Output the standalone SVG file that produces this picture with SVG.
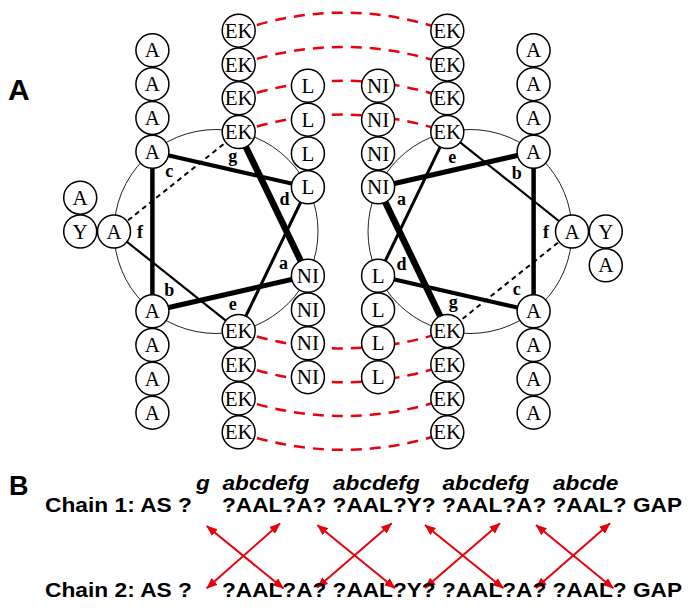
<svg xmlns="http://www.w3.org/2000/svg" width="688" height="612" viewBox="0 0 688 612">
<style>
.node circle{fill:#fff;stroke:#000;stroke-width:1.5}
.node text{font-family:"Liberation Serif","Times New Roman",serif;font-size:21px;text-anchor:middle;fill:#000}
.lbl{font-family:"Liberation Serif","Times New Roman",serif;font-weight:bold;font-size:18px;text-anchor:middle;fill:#000}
.arc{fill:none;stroke:#e8000b;stroke-width:2.5;stroke-dasharray:11 8}
.hl{stroke:#000;fill:none}
.dash{stroke:#000;stroke-width:2;stroke-dasharray:5 4;fill:none}
.wheel{fill:none;stroke:#222;stroke-width:1}
.panel{font-family:"Liberation Sans",Arial,sans-serif;font-weight:bold;fill:#000}
.bt{font-family:"Liberation Sans",Arial,sans-serif;font-weight:bold;font-size:19.5px;fill:#000}
.hep{font-style:italic}
.arr{stroke:#e8000b;stroke-width:2;fill:none;marker-start:url(#ah);marker-end:url(#ah)}
</style>
<defs>
<marker id="ah" viewBox="0 0 11 9" refX="10.5" refY="4.5" markerWidth="11" markerHeight="9" markerUnits="userSpaceOnUse" orient="auto-start-reverse">
<path d="M0,0 L11,4.5 L0,9 Z" fill="#e8000b"/>
</marker>
</defs>

<text class="panel" x="8" y="100" font-size="30">A</text>
<text class="panel" x="9" y="495" font-size="27">B</text>

<g id="connectors">
<path class="arc" d="M238.7,30.66 Q343,-5.34 447.3,30.66"/>
<path class="arc" d="M238.7,64.46 Q343,29.46 447.3,64.46"/>
<path class="arc" d="M238.7,98.26 Q343,63.26 447.3,98.26"/>
<path class="arc" d="M238.7,132.06 Q343,97.06 447.3,132.06"/>
<path class="arc" d="M238.7,330.94 Q343,365.94 447.3,330.94"/>
<path class="arc" d="M238.7,364.74 Q343,399.74 447.3,364.74"/>
<path class="arc" d="M238.7,398.54 Q343,433.54 447.3,398.54"/>
<path class="arc" d="M238.7,432.34 Q343,467.34 447.3,432.34"/>

<circle class="wheel" cx="216" cy="231.5" r="102"/>
<line class="hl" x1="238.7" y1="132.06" x2="307.9" y2="275.76" stroke-width="6.5"/>
<line class="hl" x1="307.9" y1="275.76" x2="152.4" y2="311.24" stroke-width="5"/>
<line class="hl" x1="152.4" y1="311.24" x2="152.4" y2="151.76" stroke-width="4.5"/>
<line class="hl" x1="152.4" y1="151.76" x2="307.9" y2="187.24" stroke-width="4"/>
<line class="hl" x1="307.9" y1="187.24" x2="238.7" y2="330.94" stroke-width="3"/>
<line class="hl" x1="238.7" y1="330.94" x2="114" y2="231.5" stroke-width="2.2"/>
<line class="dash" x1="114" y1="231.5" x2="238.7" y2="132.06"/>

<circle class="wheel" cx="470" cy="231.5" r="102"/>
<line class="hl" x1="447.3" y1="330.94" x2="378.1" y2="187.24" stroke-width="6.5"/>
<line class="hl" x1="378.1" y1="187.24" x2="533.6" y2="151.76" stroke-width="5"/>
<line class="hl" x1="533.6" y1="151.76" x2="533.6" y2="311.24" stroke-width="4.5"/>
<line class="hl" x1="533.6" y1="311.24" x2="378.1" y2="275.76" stroke-width="4"/>
<line class="hl" x1="378.1" y1="275.76" x2="447.3" y2="132.06" stroke-width="3"/>
<line class="hl" x1="447.3" y1="132.06" x2="572" y2="231.5" stroke-width="2.2"/>
<line class="dash" x1="572" y1="231.5" x2="447.3" y2="330.94"/>

<line class="arr" x1="206.7" y1="526" x2="283.5" y2="588.5"/>
<line class="arr" x1="280" y1="523.5" x2="206.7" y2="588.3"/>
<line class="arr" x1="317.3" y1="525" x2="395" y2="588.3"/>
<line class="arr" x1="391.7" y1="523.3" x2="317.3" y2="587.5"/>
<line class="arr" x1="425" y1="525" x2="503.3" y2="588.3"/>
<line class="arr" x1="500" y1="523.3" x2="425" y2="588"/>
<line class="arr" x1="536" y1="525" x2="613.3" y2="588.3"/>
<line class="arr" x1="610" y1="523.3" x2="536" y2="588"/>
</g>

<g id="labels-left">
<text class="lbl" x="283.6" y="269">a</text>
<text class="lbl" x="169.2" y="296">b</text>
<text class="lbl" x="169.2" y="177">c</text>
<text class="lbl" x="284.6" y="205">d</text>
<text class="lbl" x="232.7" y="309.5">e</text>
<text class="lbl" x="140" y="237.5">f</text>
<text class="lbl" x="232.7" y="162">g</text>
</g>
<g id="labels-right">
<text class="lbl" x="401.4" y="205">a</text>
<text class="lbl" x="516.8" y="179">b</text>
<text class="lbl" x="516.8" y="294.5">c</text>
<text class="lbl" x="401.4" y="270">d</text>
<text class="lbl" x="452.3" y="162.5">e</text>
<text class="lbl" x="546" y="237.5">f</text>
<text class="lbl" x="453.3" y="308">g</text>
</g>

<g id="L-A1" class="node"><circle cx="152.4" cy="50.36" r="16.5"/><text x="152.4" y="57.4">A</text></g>
<g id="L-A2" class="node"><circle cx="152.4" cy="84.16" r="16.5"/><text x="152.4" y="91.2">A</text></g>
<g id="L-A3" class="node"><circle cx="152.4" cy="117.96" r="16.5"/><text x="152.4" y="125">A</text></g>
<g id="L-c" class="node"><circle cx="152.4" cy="151.76" r="16.5"/><text x="152.4" y="158.8">A</text></g>
<g id="L-b" class="node"><circle cx="152.4" cy="311.24" r="16.5"/><text x="152.4" y="318.3">A</text></g>
<g id="L-A5" class="node"><circle cx="152.4" cy="345.04" r="16.5"/><text x="152.4" y="352.1">A</text></g>
<g id="L-A6" class="node"><circle cx="152.4" cy="378.84" r="16.5"/><text x="152.4" y="385.9">A</text></g>
<g id="L-A7" class="node"><circle cx="152.4" cy="412.64" r="16.5"/><text x="152.4" y="419.7">A</text></g>
<g id="L-EK1" class="node"><circle cx="238.7" cy="30.66" r="16.5"/><text x="238.7" y="37.7">EK</text></g>
<g id="L-EK2" class="node"><circle cx="238.7" cy="64.46" r="16.5"/><text x="238.7" y="71.5">EK</text></g>
<g id="L-EK3" class="node"><circle cx="238.7" cy="98.26" r="16.5"/><text x="238.7" y="105.3">EK</text></g>
<g id="L-g" class="node"><circle cx="238.7" cy="132.06" r="16.5"/><text x="238.7" y="139.1">EK</text></g>
<g id="L-e" class="node"><circle cx="238.7" cy="330.94" r="16.5"/><text x="238.7" y="338">EK</text></g>
<g id="L-EK5" class="node"><circle cx="238.7" cy="364.74" r="16.5"/><text x="238.7" y="371.8">EK</text></g>
<g id="L-EK6" class="node"><circle cx="238.7" cy="398.54" r="16.5"/><text x="238.7" y="405.6">EK</text></g>
<g id="L-EK7" class="node"><circle cx="238.7" cy="432.34" r="16.5"/><text x="238.7" y="439.4">EK</text></g>
<g id="L-L1" class="node"><circle cx="307.9" cy="85.84" r="16.5"/><text x="307.9" y="92.9">L</text></g>
<g id="L-L2" class="node"><circle cx="307.9" cy="119.64" r="16.5"/><text x="307.9" y="126.7">L</text></g>
<g id="L-L3" class="node"><circle cx="307.9" cy="153.44" r="16.5"/><text x="307.9" y="160.5">L</text></g>
<g id="L-d" class="node"><circle cx="307.9" cy="187.24" r="16.5"/><text x="307.9" y="194.3">L</text></g>
<g id="L-a" class="node"><circle cx="307.9" cy="275.76" r="16.5"/><text x="307.9" y="282.8">NI</text></g>
<g id="L-NI2" class="node"><circle cx="307.9" cy="309.56" r="16.5"/><text x="307.9" y="316.6">NI</text></g>
<g id="L-NI3" class="node"><circle cx="307.9" cy="343.36" r="16.5"/><text x="307.9" y="350.4">NI</text></g>
<g id="L-NI4" class="node"><circle cx="307.9" cy="377.16" r="16.5"/><text x="307.9" y="384.2">NI</text></g>
<g id="L-f" class="node"><circle cx="114" cy="231.5" r="16.5"/><text x="114" y="238.5">A</text></g>
<g id="L-Y" class="node"><circle cx="80.2" cy="231.5" r="16.5"/><text x="80.2" y="238.5">Y</text></g>
<g id="L-YA" class="node"><circle cx="80.2" cy="197.7" r="16.5"/><text x="80.2" y="204.7">A</text></g>

<g id="R-NI1" class="node"><circle cx="378.1" cy="85.84" r="16.5"/><text x="378.1" y="92.9">NI</text></g>
<g id="R-NI2" class="node"><circle cx="378.1" cy="119.64" r="16.5"/><text x="378.1" y="126.7">NI</text></g>
<g id="R-NI3" class="node"><circle cx="378.1" cy="153.44" r="16.5"/><text x="378.1" y="160.5">NI</text></g>
<g id="R-a" class="node"><circle cx="378.1" cy="187.24" r="16.5"/><text x="378.1" y="194.3">NI</text></g>
<g id="R-d" class="node"><circle cx="378.1" cy="275.76" r="16.5"/><text x="378.1" y="282.8">L</text></g>
<g id="R-L2" class="node"><circle cx="378.1" cy="309.56" r="16.5"/><text x="378.1" y="316.6">L</text></g>
<g id="R-L3" class="node"><circle cx="378.1" cy="343.36" r="16.5"/><text x="378.1" y="350.4">L</text></g>
<g id="R-L4" class="node"><circle cx="378.1" cy="377.16" r="16.5"/><text x="378.1" y="384.2">L</text></g>
<g id="R-EK1" class="node"><circle cx="447.3" cy="30.66" r="16.5"/><text x="447.3" y="37.7">EK</text></g>
<g id="R-EK2" class="node"><circle cx="447.3" cy="64.46" r="16.5"/><text x="447.3" y="71.5">EK</text></g>
<g id="R-EK3" class="node"><circle cx="447.3" cy="98.26" r="16.5"/><text x="447.3" y="105.3">EK</text></g>
<g id="R-e" class="node"><circle cx="447.3" cy="132.06" r="16.5"/><text x="447.3" y="139.1">EK</text></g>
<g id="R-g" class="node"><circle cx="447.3" cy="330.94" r="16.5"/><text x="447.3" y="338">EK</text></g>
<g id="R-EK5" class="node"><circle cx="447.3" cy="364.74" r="16.5"/><text x="447.3" y="371.8">EK</text></g>
<g id="R-EK6" class="node"><circle cx="447.3" cy="398.54" r="16.5"/><text x="447.3" y="405.6">EK</text></g>
<g id="R-EK7" class="node"><circle cx="447.3" cy="432.34" r="16.5"/><text x="447.3" y="439.4">EK</text></g>
<g id="R-A1" class="node"><circle cx="533.6" cy="50.36" r="16.5"/><text x="533.6" y="57.4">A</text></g>
<g id="R-A2" class="node"><circle cx="533.6" cy="84.16" r="16.5"/><text x="533.6" y="91.2">A</text></g>
<g id="R-A3" class="node"><circle cx="533.6" cy="117.96" r="16.5"/><text x="533.6" y="125">A</text></g>
<g id="R-b" class="node"><circle cx="533.6" cy="151.76" r="16.5"/><text x="533.6" y="158.8">A</text></g>
<g id="R-c" class="node"><circle cx="533.6" cy="311.24" r="16.5"/><text x="533.6" y="318.3">A</text></g>
<g id="R-A5" class="node"><circle cx="533.6" cy="345.04" r="16.5"/><text x="533.6" y="352.1">A</text></g>
<g id="R-A6" class="node"><circle cx="533.6" cy="378.84" r="16.5"/><text x="533.6" y="385.9">A</text></g>
<g id="R-A7" class="node"><circle cx="533.6" cy="412.64" r="16.5"/><text x="533.6" y="419.7">A</text></g>
<g id="R-f" class="node"><circle cx="572" cy="231.5" r="16.5"/><text x="572" y="238.5">A</text></g>
<g id="R-Y" class="node"><circle cx="605.8" cy="231.5" r="16.5"/><text x="605.8" y="238.5">Y</text></g>
<g id="R-YA" class="node"><circle cx="605.8" cy="265.3" r="16.5"/><text x="605.8" y="272.3">A</text></g>

<g id="heptads" class="bt hep">
<text x="196" y="490" textLength="13.8" lengthAdjust="spacingAndGlyphs">g</text>
<text x="222.5" y="490" textLength="86.7" lengthAdjust="spacingAndGlyphs">abcdefg</text>
<text x="333" y="490" textLength="86.7" lengthAdjust="spacingAndGlyphs">abcdefg</text>
<text x="442.5" y="490" textLength="86.7" lengthAdjust="spacingAndGlyphs">abcdefg</text>
<text x="553" y="490" textLength="65.4" lengthAdjust="spacingAndGlyphs">abcde</text>
</g>
<g id="chain1" class="bt">
<text x="45" y="512" textLength="147" lengthAdjust="spacingAndGlyphs">Chain 1: AS ?</text>
<text x="222" y="512" textLength="460" lengthAdjust="spacingAndGlyphs">?AAL?A? ?AAL?Y? ?AAL?A? ?AAL? GAP</text>
</g>
<g id="chain2" class="bt">
<text x="45" y="596.5" textLength="147" lengthAdjust="spacingAndGlyphs">Chain 2: AS ?</text>
<text x="222" y="596.5" textLength="460" lengthAdjust="spacingAndGlyphs">?AAL?A? ?AAL?Y? ?AAL?A? ?AAL? GAP</text>
</g>
</svg>
